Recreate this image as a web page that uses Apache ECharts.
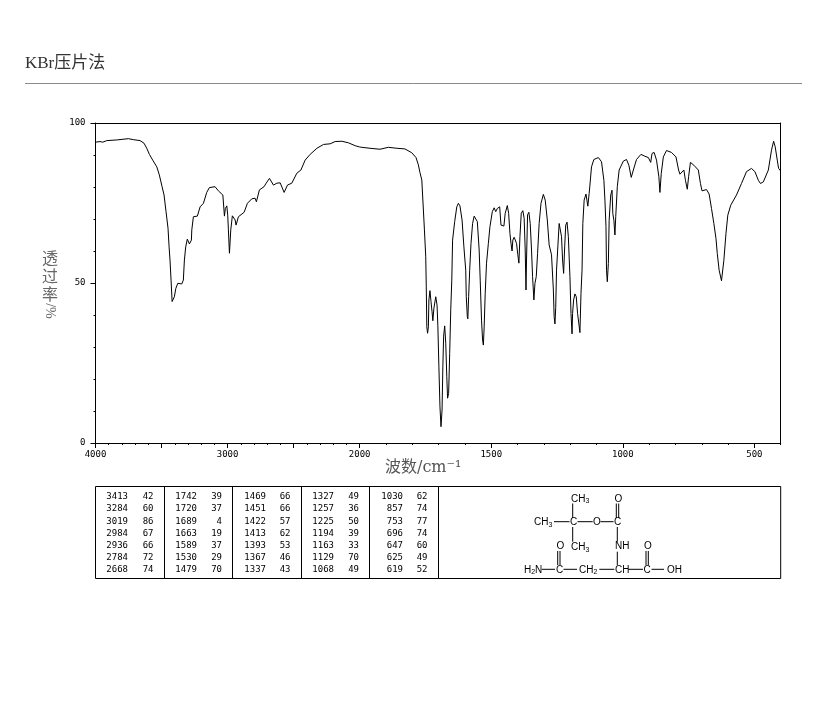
<!DOCTYPE html>
<html>
<head>
<meta charset="utf-8">
<style>html,body{margin:0;padding:0;background:#fff}#c{width:822px;height:709px}</style>
<script src="https://cdn.jsdelivr.net/npm/echarts@6/dist/echarts.min.js"></script>
</head>
<body>
<div id="c"></div>
<script>
const titleText = "KBr压片法";
const yName = ["透", "过", "率"];
const yNameRot = "/%";
const xName = "波数/cm⁻¹";

// spectrum, 4000-2000 cm-1 section
const wnHigh = [4000,3996,3966,3945,3915,3840,3751,3714,3663,3633,3612,3592,3567,3536,3517,3496,3481,3466,3451,3443,3436,3428,3420,3413,3403,3392,3377,3347,3335,3327,3317,3305,3289,3274,3271,3259,3229,3208,3183,3158,3138,3095,3070,3036,3024,3017,3006,2999,2994,2986,2976,2973,2964,2943,2936,2918,2875,2850,2817,2792,2782,2759,2724,2708,2683,2653,2627,2602,2572,2547,2514,2476,2445,2413,2375,2324,2274,2224,2186,2135,2085,2034,2000];
const tHigh = [94,94,94.2,94,94.5,94.7,95.1,94.8,94.5,93.7,92.1,90.2,88.4,86.3,83.8,80.1,77.5,72.3,67.1,61.3,57.2,50.9,44.2,43.8,45.7,48.3,49.9,49.7,50.9,57.2,61.3,63.7,62.2,63.4,66.6,70.7,70.9,73.8,74.9,78.3,79.8,80.1,78.8,77.5,70.9,73.3,74.1,71.2,66.6,59.3,66.6,66,71,69.7,68.1,70.7,72.1,74.9,76.3,76.5,75.4,79.1,80.1,81.2,82.7,80.6,81.2,81.3,78.3,80.6,81.2,84.3,85.3,88.4,90.2,92.1,93.3,93.5,94.2,94.3,93.8,92.9,92.5];

// spectrum, 2000-400 cm-1 section
const wnLow = [2000,1992,1961,1923,1891,1859,1828,1802,1786,1777,1771,1764,1754,1749,1747,1745,1742,1739,1737,1733,1729,1725,1722,1718,1711,1706,1703,1699,1695,1691,1687,1684,1681,1677,1673,1669,1666,1662,1658,1654,1650,1647,1639,1631,1625,1619,1611,1604,1597,1595,1591,1589,1586,1582,1577,1571,1565,1558,1553,1546,1542,1537,1533,1530,1527,1523,1518,1511,1505,1496,1489,1483,1477,1473,1468,1463,1452,1447,1439,1434,1429,1425,1421,1418,1413,1404,1399,1395,1391,1386,1380,1375,1371,1368,1366,1362,1357,1352,1347,1343,1338,1334,1329,1324,1318,1311,1302,1295,1287,1280,1271,1264,1261,1258,1255,1252,1247,1242,1236,1233,1229,1225,1221,1217,1212,1207,1201,1197,1193,1191,1187,1182,1177,1172,1167,1163,1159,1155,1152,1147,1140,1133,1128,1125,1119,1110,1093,1081,1072,1068,1064,1062,1059,1055,1052,1046,1041,1038,1034,1030,1027,1021,1014,998,986,977,968,960,948,931,916,903,894,889,881,872,863,859,854,846,834,815,798,788,783,768,762,755,750,743,730,713,705,699,682,672,663,654,646,641,634,625,621,616,608,601,590,568,549,530,511,498,485,477,466,447,435,427,421,413,408,403,400];
const tLow = [92.5,92.4,92.1,91.8,92.4,92.1,91.9,90.7,89.2,86.9,84.5,82.2,66.6,58.2,48.8,36.3,34.3,36.3,44.7,47.6,44.2,41,38.2,42.1,45.7,43.1,36.6,23.8,11.3,5.1,10.3,23.8,33.4,36.6,31.2,20.7,14,15.5,28,41.6,50.9,63.4,69.2,73.8,74.9,74.1,69.7,61.3,54,45.7,39.5,38.8,45.7,54,62.4,68.6,70.9,71.3,69.2,60.3,50.9,38.4,32.2,30.6,36.3,46.8,56.2,62.4,67.6,72.3,73.5,72.3,73.3,73.7,73.8,68.1,67.8,71.8,74.2,71.8,65.5,62.4,60,63.4,64.3,62.4,58.8,56.2,64.5,71.8,72.6,70.2,60.3,47.8,57.2,71.3,72.1,68.6,60.3,52,44.7,49.9,52,59.2,68.6,74.9,77.7,75.9,69.7,61.9,58.8,47.8,39.5,37.2,42.4,54,61.3,68.6,69.2,64.5,57.2,53,61.3,68.1,69,64.5,52,40.5,34.1,40.5,44.7,46.6,45.7,40.5,37.2,34.5,46.8,54,68.6,75.9,77.8,74,78,80.6,86.3,88.6,89.2,87.9,82.1,75.9,67.6,54,50.4,56.1,69.6,77.5,79,71.7,69.6,65,70.7,80.1,85.3,88.1,88.6,86.8,83,85.3,88.6,90.2,89.6,89.2,87.7,90.5,90.8,88.4,83.2,78.3,84.2,89.4,91.4,90.8,89.4,85.3,84,85.3,82.1,79.3,83.2,87.7,86.8,85.3,81.1,78.8,79.2,77.8,73.3,68.6,63.9,59.2,54,50.7,51.1,57.1,65.5,71.2,74.3,77.5,81.1,84.8,85.8,84.8,82.1,81.1,81.6,85.3,91.5,94.3,92.6,88.4,85.8,85.3,85];

// peak table, column by column
const peakWn = [
  ["3413","3284","3019","2984","2936","2784","2668"],
  ["1742","1720","1689","1663","1589","1530","1479"],
  ["1469","1451","1422","1413","1393","1367","1337"],
  ["1327","1257","1225","1194","1163","1129","1068"],
  ["1030","857","753","696","647","625","619"]
];
const peakT = [
  ["42","60","86","67","66","72","74"],
  ["39","37","4","19","37","29","70"],
  ["66","66","57","62","53","46","43"],
  ["49","36","50","39","33","70","49"],
  ["62","74","77","74","60","49","52"]
];

const yTicks = [0, 50, 100];
const xLabelsHigh = [3000, 4000];
const xMajorLow = [500, 1000, 1500, 2000];

const toPairs = (xs, ys) => xs.map((x, i) => [x, ys[i]]);

const MONO = '"DejaVu Sans Mono", monospace';
const SERIF = '"Liberation Serif", "Noto Sans CJK SC", serif';
const WIDESERIF = '"DejaVu Serif", "Noto Sans CJK SC", serif';
const CJK = '"Noto Sans CJK SC", sans-serif';

const plotL = 95.5, plotM = 359.7, plotR = 780.7, plotT = 123, plotB = 443;
const lineStyle = {color: '#000', width: 1};

const g = [];
function text(x, y, str, opt) {
  g.push({type: 'text', x, y, silent: true, style: Object.assign({
    text: str, fill: '#000', font: '9px ' + MONO, textAlign: 'left', textVerticalAlign: 'middle'
  }, opt || {})});
}
function seg(x1, y1, x2, y2, color, w) {
  g.push({type: 'line', silent: true, shape: {x1, y1, x2, y2},
    style: {stroke: color || '#000', lineWidth: w || 1}});
}

// heading
text(25, 63.5, titleText, {font: '17px ' + SERIF, fill: '#333'});
seg(25, 83.5, 802, 83.5, '#8a8a8a', 1);

// axis names
yName.forEach((c, i) => text(50, 258 + i * 18, c, {font: '16px ' + CJK, fill: '#666', textAlign: 'center'}));
g.push({type: 'text', x: 50, y: 311, rotation: -Math.PI / 2, silent: true, style: {
  text: yNameRot, font: '14px ' + SERIF, fill: '#666', textAlign: 'center', textVerticalAlign: 'middle'}});
text(385, 468, xName, {font: '16px ' + WIDESERIF, fill: '#555'});

// table frame
const tTop = 486.5, tBot = 578.5;
g.push({type: 'rect', silent: true, shape: {x: plotL, y: tTop, width: plotR - plotL, height: tBot - tTop},
  style: {fill: 'none', stroke: '#000', lineWidth: 1}});
const colLines = [164.5, 232.5, 301.5, 369.5, 438.5];
colLines.forEach(x => seg(x, tTop, x, tBot));
const wnRight = [128, 197, 266, 334, 403];
const tRight = [153.5, 222, 290.5, 359, 427.5];
peakWn.forEach((col, c) => col.forEach((v, r) => {
  const y = 496.8 + r * 12.2;
  text(wnRight[c], y, v, {textAlign: 'right'});
  text(tRight[c], y, peakT[c][r], {textAlign: 'right'});
}));

// structural formula
const chemFont = '10px "Liberation Sans", sans-serif';
function chem(x, y, a, sub, b) {
  g.push({type: 'text', x, y: y + 1, silent: true, style: {
    text: '{m|' + a + '}' + (sub ? '{s|' + sub + '}' : '') + (b ? '{m|' + b + '}' : ''),
    textAlign: 'left', textVerticalAlign: 'middle',
    rich: {m: {font: chemFont, fill: '#000'}, s: {font: '7px "Liberation Sans", sans-serif', fill: '#000', padding: [4, 0, 0, 0]}}
  }});
}
const chemLabels = [
  [571, 498, 'CH', '3'], [614.5, 498, 'O'], [534, 521.7, 'CH', '3'], [570, 521.7, 'C'],
  [593, 521.7, 'O'], [614, 521.7, 'C'], [556.5, 545.7, 'O'], [571, 546.7, 'CH', '3'],
  [615, 545.7, 'NH'], [644, 545.7, 'O'], [524, 569.3, 'H', '2', 'N'], [556, 569.3, 'C'],
  [579, 569.3, 'CH', '2'], [615, 569.3, 'CH'], [643.5, 569.3, 'C'], [667, 569.3, 'OH']
];
chemLabels.forEach(l => chem(l[0], l[1], l[2], l[3], l[4]));
const bonds = [
  [572.7, 503.5, 572.7, 518], [554, 521.7, 569.5, 521.7], [577.5, 521.7, 592.7, 521.7], [600.5, 521.7, 613.5, 521.7],
  [616.3, 503.5, 616.3, 518], [618.7, 503.5, 618.7, 518], [572.7, 527, 572.7, 541.7], [617.3, 527, 617.3, 541.7],
  [617.3, 551.7, 617.3, 565], [557.7, 551, 557.7, 565], [560, 551, 560, 565], [646, 551, 646, 565], [648.3, 551, 648.3, 565],
  [541.7, 569.3, 555, 569.3], [563.5, 569.3, 577, 569.3], [599.3, 569.3, 614.3, 569.3], [628.3, 569.3, 643, 569.3], [651.5, 569.3, 664, 569.3]
];
bonds.forEach(b => seg(b[0], b[1], b[2], b[3]));

const tickLabel = {color: '#000', fontFamily: MONO, fontSize: 9};
const lineOnly = {axisLine: {show: true, onZero: false, lineStyle}, axisTick: {show: false}, axisLabel: {show: false}, splitLine: {show: false}};

const option = {
  animation: false,
  backgroundColor: '#fff',
  grid: [
    {left: plotL, top: plotT, width: plotM - plotL, height: plotB - plotT},
    {left: plotM, top: plotT, width: plotR - plotM, height: plotB - plotT}
  ],
  xAxis: [
    {gridIndex: 0, type: 'value', position: 'bottom', inverse: true, min: 2000, max: 4000, interval: 500,
      axisLine: {show: true, onZero: false, lineStyle},
      axisTick: {show: true, length: 5, lineStyle},
      minorTick: {show: true, splitNumber: 5, length: 2, lineStyle},
      axisLabel: Object.assign({show: true, margin: 7, showMinLabel: true, showMaxLabel: true,
        formatter: v => xLabelsHigh.includes(v) ? String(v) : ''}, tickLabel),
      splitLine: {show: false}},
    {gridIndex: 1, type: 'value', position: 'bottom', inverse: true, min: 400, max: 2000, interval: 100,
      axisLine: {show: true, onZero: false, lineStyle},
      axisTick: {show: true, length: 2, lineStyle},
      axisLabel: {show: false}, splitLine: {show: false}},
    {gridIndex: 1, type: 'value', position: 'bottom', inverse: true, min: 400, max: 2000,
      axisLine: {show: false, onZero: false},
      axisTick: {show: true, length: 5, lineStyle, customValues: xMajorLow},
      axisLabel: Object.assign({show: true, margin: 7, customValues: xMajorLow, formatter: v => String(v)}, tickLabel),
      splitLine: {show: false}},
    Object.assign({gridIndex: 0, type: 'value', position: 'top', inverse: true, min: 2000, max: 4000}, lineOnly),
    Object.assign({gridIndex: 1, type: 'value', position: 'top', inverse: true, min: 400, max: 2000}, lineOnly)
  ],
  yAxis: [
    {gridIndex: 0, type: 'value', position: 'left', min: 0, max: 100, interval: 50,
      axisLine: {show: true, onZero: false, lineStyle},
      axisTick: {show: true, length: 5, lineStyle},
      minorTick: {show: true, splitNumber: 5, length: 2, lineStyle},
      axisLabel: Object.assign({show: true, margin: 10, customValues: yTicks}, tickLabel),
      splitLine: {show: false}},
    Object.assign({gridIndex: 1, type: 'value', position: 'right', min: 0, max: 100}, lineOnly)
  ],
  series: [
    {type: 'line', xAxisIndex: 0, yAxisIndex: 0, data: toPairs(wnHigh, tHigh), showSymbol: false, symbol: 'none',
      lineStyle: {color: '#000', width: 1}, silent: true, clip: false},
    {type: 'line', xAxisIndex: 1, yAxisIndex: 1, data: toPairs(wnLow, tLow), showSymbol: false, symbol: 'none',
      lineStyle: {color: '#000', width: 1}, silent: true, clip: false}
  ],
  graphic: {elements: g}
};
const chart = echarts.init(document.getElementById('c'), null, {renderer: 'canvas'});
chart.setOption(option);
</script>
</body>
</html>
